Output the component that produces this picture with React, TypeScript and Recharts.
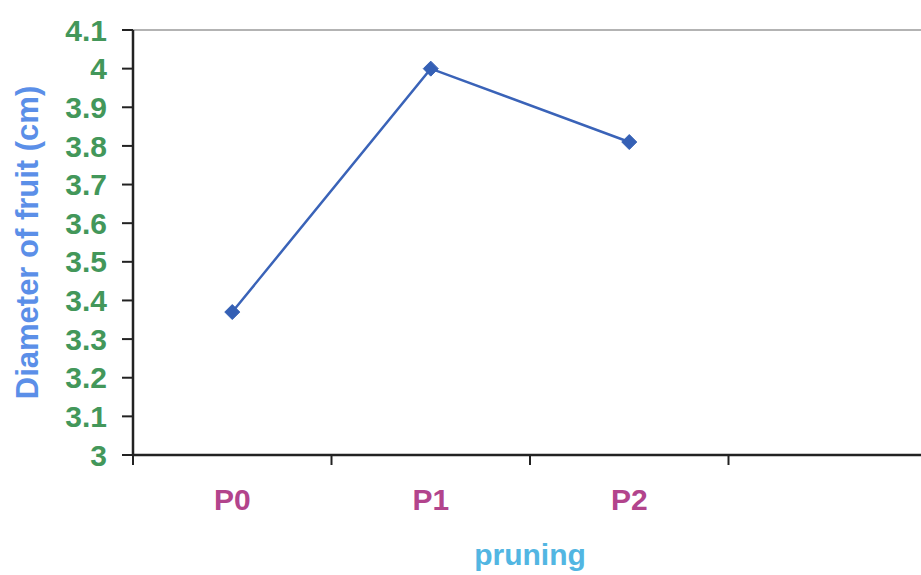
import React from 'react';
import { LineChart, Line, XAxis, YAxis, ReferenceLine } from 'recharts';

// pruning treatments and fruit diameter (cm)
const pruningLevels = ['P0', 'P1', 'P2'];
const fruitDiameter = [3.37, 4.0, 3.81];
const yTicks = [3, 3.1, 3.2, 3.3, 3.4, 3.5, 3.6, 3.7, 3.8, 3.9, 4, 4.1];
// the plot has room for one more (empty) category on the right
const slotCount = 4;
const slotBounds = [0, 1, 2, 3, 4];

const chartData = pruningLevels.map((name, i) => ({
    pos: i + 0.5,
    name,
    diameter: fruitDiameter[i],
}));
const labelTicks = chartData.map((d) => d.pos);

const FONT = 'Arial, "Liberation Sans", sans-serif';

const Diamond = (props: any) => {
    const { cx, cy } = props;
    if (cx == null || cy == null) return null;
    const r = 7.5;
    return (
        <polygon
            points={`${cx},${cy - r} ${cx + r},${cy} ${cx},${cy + r} ${cx - r},${cy}`}
            fill="#3560b5"
            stroke="#3560b5"
            strokeWidth={1}
        />
    );
};

const App: React.FC = () => {
    return (
        <div style={{ position: 'absolute', left: 0, top: 0, width: 921, height: 575, overflow: 'hidden', background: '#fff', fontFamily: FONT }}>
            <LineChart width={930} height={575} data={chartData} margin={{ top: 30, right: 3, left: 0, bottom: 0 }}>
                <XAxis
                    xAxisId="bounds"
                    type="number"
                    dataKey="pos"
                    domain={[0, slotCount]}
                    ticks={slotBounds}
                    tickFormatter={() => ''}
                    height={10}
                    tickSize={10}
                    axisLine={{ stroke: '#222', strokeWidth: 2.5 }}
                    tickLine={{ stroke: '#222', strokeWidth: 2 }}
                />
                <XAxis
                    xAxisId="labels"
                    type="number"
                    dataKey="pos"
                    domain={[0, slotCount]}
                    ticks={labelTicks}
                    tickFormatter={(v: number) => pruningLevels[Math.floor(v)] ?? ''}
                    height={110}
                    tickSize={0}
                    tickMargin={24}
                    axisLine={false}
                    tickLine={false}
                    tick={{ fill: '#b2448c', fontSize: 30, fontWeight: 'bold', fontFamily: FONT }}
                    label={{ value: 'pruning', position: 'insideBottom', offset: 10, fill: '#52b6e2', fontSize: 30, fontWeight: 'bold', fontFamily: FONT }}
                />
                <YAxis
                    type="number"
                    domain={[3, 4.1]}
                    ticks={yTicks}
                    width={133}
                    tickSize={11}
                    tickMargin={15}
                    interval={0}
                    axisLine={{ stroke: '#222', strokeWidth: 2.5 }}
                    tickLine={{ stroke: '#222', strokeWidth: 2 }}
                    tick={{ fill: '#43975a', fontSize: 30, fontWeight: 'bold', fontFamily: FONT }}
                    label={{
                        value: 'Diameter of fruit (cm)',
                        angle: -90,
                        position: 'insideLeft',
                        offset: 27,
                        fill: '#5b8fe8',
                        fontSize: 31,
                        fontWeight: 'bold',
                        fontFamily: FONT,
                        style: { textAnchor: 'middle' },
                    }}
                />
                <ReferenceLine xAxisId="labels" y={4.1} stroke="#9a9a9a" strokeWidth={1.5} />
                <Line
                    xAxisId="labels"
                    type="linear"
                    dataKey="diameter"
                    stroke="#3a63b8"
                    strokeWidth={2.5}
                    dot={<Diamond />}
                    activeDot={false}
                    isAnimationActive={false}
                />
            </LineChart>
        </div>
    );
};

export default App;
